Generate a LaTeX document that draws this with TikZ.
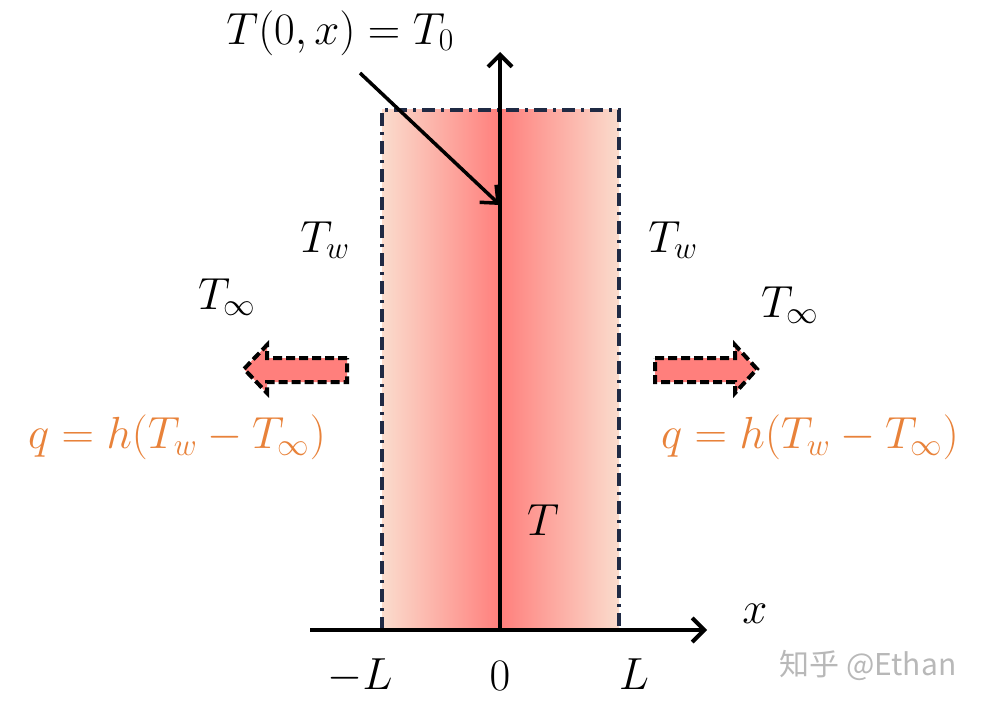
\RequirePackage{fix-cm}
\documentclass[tikz,border=0pt]{standalone}
\usepackage{fontspec}
\newfontfamily\cjk{Noto Sans CJK SC}
\usetikzlibrary{arrows.meta}
\definecolor{peach}{HTML}{FADCCD}
\definecolor{salmon}{HTML}{FF7F7C}
\definecolor{navy}{HTML}{1F2A44}
\definecolor{qorange}{HTML}{E8823A}
\begin{document}
\begin{tikzpicture}[x=1pt,y=-1pt,
  lab/.style={font=\fontsize{45}{54}\selectfont, inner sep=0pt},
  qlab/.style={lab, text=qorange},
  axisline/.style={line width=4.5pt, -{Straight Barb[length=12pt,width=24pt,line width=4pt]}},
  wall/.style={navy, line width=4pt, dash pattern=on 13pt off 6pt on 3pt off 6pt},
  flux/.style={fill=salmon, draw=black, line width=4pt, dash pattern=on 9pt off 4pt, line join=miter}]
\useasboundingbox (0,0) rectangle (982,706);
% slab
\shade[left color=peach, right color=salmon] (382,110) rectangle (500,630);
\shade[left color=salmon, right color=peach] (500,110) rectangle (619,630);
\draw[wall] (382,630) -- (382,110) -- (619,110) -- (619,630);
% axes
\coordinate (xs) at (310,630);
\coordinate (xe) at (707,630);
\coordinate (ys) at (500,630);
\coordinate (ye) at (500,52);
\draw[axisline] (xs) -- (xe);
\draw[axisline] (ys) -- (ye);
\node[lab] (xl) at (755,614) {$x$};
\node[lab] (ml) at (360,676) {$-L$};
\node[lab] (zl) at (500,676) {$0$};
\node[lab] (pl) at (634,674) {$L$};
% initial condition
\node[lab] (ic) at (340,33) {$T(0,x)=T_0$};
\coordinate (ica) at (360,73);
\coordinate (ict) at (500,205);
\draw[line width=3.5pt, -{Straight Barb[length=14pt,width=24pt,line width=3.5pt]}] (ica) -- (ict);
\node[lab] (T) at (543,520) {$T$};
\node[lab] (twl) at (325,240) {$T_w$};
\node[lab] (twr) at (673,240) {$T_w$};
\node[lab] (til) at (227,297) {$T_\infty$};
\node[lab] (tir) at (790,305) {$T_\infty$};
% flux arrows
\draw[flux] (347,358) -- (267,358) -- (267,345) -- (244,369) -- (267,393) -- (267,382) -- (347,382) -- cycle;
\draw[flux] (655,358) -- (735,358) -- (735,345) -- (757,369) -- (735,393) -- (735,382) -- (655,382) -- cycle;
\node[qlab] (ql) at (177,437) {$q=h(T_w-T_\infty)$};
\node[qlab] (qr) at (810,437) {$q=h(T_w-T_\infty)$};
% watermark
\node[inner sep=0pt, text=black!28, font=\cjk\fontsize{30}{34}\selectfont] (wm) at (868,665) {知乎 @Ethan};
\end{tikzpicture}
\end{document}
